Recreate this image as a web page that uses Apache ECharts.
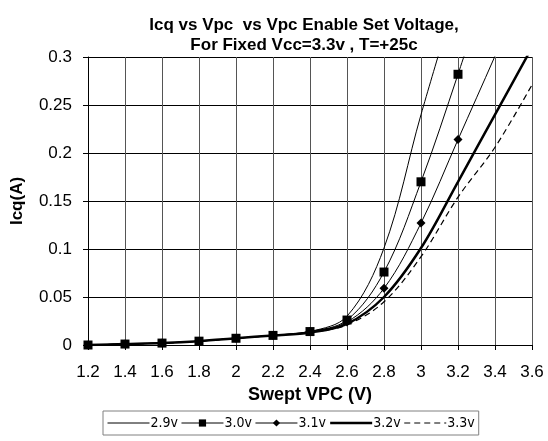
<!DOCTYPE html>
<html>
<head>
<meta charset="utf-8">
<script src="https://cdn.jsdelivr.net/npm/echarts@6/dist/echarts.min.js"></script>
<style>
  html, body { margin: 0; padding: 0; background: #fff; }
  #main { width: 548px; height: 441px; }
</style>
</head>
<body>
<div id="main"></div>
<script>
// swept VPC (V)
var vpc = [1.2, 1.4, 1.6, 1.8, 2.0, 2.2, 2.4, 2.6, 2.8, 3.0, 3.2, 3.4, 3.6];
// Icq (A) per enable set voltage
var s29 = [0, 0.001, 0.002, 0.004, 0.007, 0.010, 0.014, 0.030, 0.101, 0.240, 0.370];
var s30 = [0, 0.001, 0.002, 0.004, 0.007, 0.010, 0.014, 0.026, 0.076, 0.170, 0.282, 0.400];
var s31 = [0, 0.001, 0.002, 0.004, 0.007, 0.010, 0.014, 0.024, 0.059, 0.127, 0.214, 0.301, 0.390];
var s32 = [0, 0.001, 0.002, 0.004, 0.007, 0.010, 0.013, 0.022, 0.050, 0.101, 0.170, 0.240, 0.310];
var s33 = [0, 0.001, 0.002, 0.004, 0.007, 0.010, 0.013, 0.021, 0.045, 0.092, 0.154, 0.206, 0.271];
var xTicks = ['1.2', '1.4', '1.6', '1.8', '2', '2.2', '2.4', '2.6', '2.8', '3', '3.2', '3.4', '3.6'];
var yTicks = ['0', '0.05', '0.1', '0.15', '0.2', '0.25', '0.3'];

function pairs(vals) {
    var out = [];
    for (var i = 0; i < vals.length; i++) {
        out.push([vpc[i], vals[i]]);
    }
    return out;
}

var font = 'Liberation Sans, Arial, sans-serif';
var narrow = 'Liberation Sans Narrow, DejaVu Sans Condensed, Liberation Sans, sans-serif';
var chart = echarts.init(document.getElementById('main'));

function line(name, vals, extra) {
    var s = {
        name: name,
        type: 'line',
        smooth: 0.35,
        clip: true,
        symbol: 'none',
        lineStyle: { color: '#000', width: 1 },
        itemStyle: { color: '#000' },
        data: pairs(vals)
    };
    for (var k in extra) s[k] = extra[k];
    return s;
}

var option = {
    animation: false,
    backgroundColor: '#fff',
    title: {
        text: 'Icq vs Vpc  vs Vpc Enable Set Voltage,\nFor Fixed Vcc=3.3v , T=+25c',
        left: 299,
        textAlign: 'center',
        top: 10,
        textStyle: { fontFamily: font, fontSize: 17, fontWeight: 'bold', color: '#000', lineHeight: 20 }
    },
    legend: {
        top: 411,
        left: 103,
        padding: [5, 4, 5, 4],
        itemGap: 3,
        itemWidth: 42,
        itemHeight: 9,
        borderColor: '#808080',
        borderWidth: 1,
        textStyle: { fontFamily: narrow, fontSize: 14, color: '#000', padding: [0, 0, 0, -4] },
        data: [
            { name: '2.9v', itemStyle: { opacity: 0 }, lineStyle: { width: 1 } },
            { name: '3.0v', lineStyle: { width: 1 } },
            { name: '3.1v', lineStyle: { width: 1 } },
            { name: '3.2v', itemStyle: { opacity: 0 }, lineStyle: { width: 2.5 } },
            { name: '3.3v', itemStyle: { opacity: 0 }, lineStyle: { width: 1.2, type: [6, 4] } }
        ]
    },
    grid: { left: 88, right: 16, top: 57, bottom: 96 },
    xAxis: {
        type: 'value',
        min: 1.2,
        max: 3.6,
        interval: 0.2,
        name: 'Swept VPC (V)',
        nameLocation: 'middle',
        nameGap: 41,
        nameTextStyle: { fontFamily: font, fontSize: 18, fontWeight: 'bold', color: '#000' },
        axisLine: { lineStyle: { color: '#000' } },
        axisTick: { show: true, length: 5, lineStyle: { color: '#000' } },
        axisLabel: {
            fontFamily: font, fontSize: 17, color: '#000', margin: 19,
            formatter: function (v) {
                var i = Math.round((v - 1.2) / 0.2);
                return xTicks[i];
            }
        },
        splitLine: { show: true, lineStyle: { color: '#555', width: 1 } }
    },
    yAxis: {
        type: 'value',
        min: 0,
        max: 0.3,
        interval: 0.05,
        name: 'Icq(A)',
        nameLocation: 'middle',
        nameRotate: 90,
        nameGap: 62,
        nameTextStyle: { fontFamily: font, fontSize: 17, fontWeight: 'bold', color: '#000' },
        axisLine: { show: true, lineStyle: { color: '#000' } },
        axisTick: { show: true, length: 5, lineStyle: { color: '#000' } },
        axisLabel: {
            fontFamily: font, fontSize: 17, color: '#000', margin: 16,
            formatter: function (v) {
                return yTicks[Math.round(v / 0.05)];
            }
        },
        splitLine: { show: true, lineStyle: { color: '#000', width: 1 } }
    },
    series: [
        line('2.9v', s29, {}),
        line('3.0v', s30, { symbol: 'rect', symbolSize: 9, showAllSymbol: true }),
        line('3.1v', s31, { symbol: 'diamond', symbolSize: 9, showAllSymbol: true }),
        line('3.2v', s32, { lineStyle: { color: '#000', width: 2.5 } }),
        line('3.3v', s33, { lineStyle: { color: '#000', width: 1.2, type: [6, 4] } })
    ]
};

chart.setOption(option);
</script>
</body>
</html>
